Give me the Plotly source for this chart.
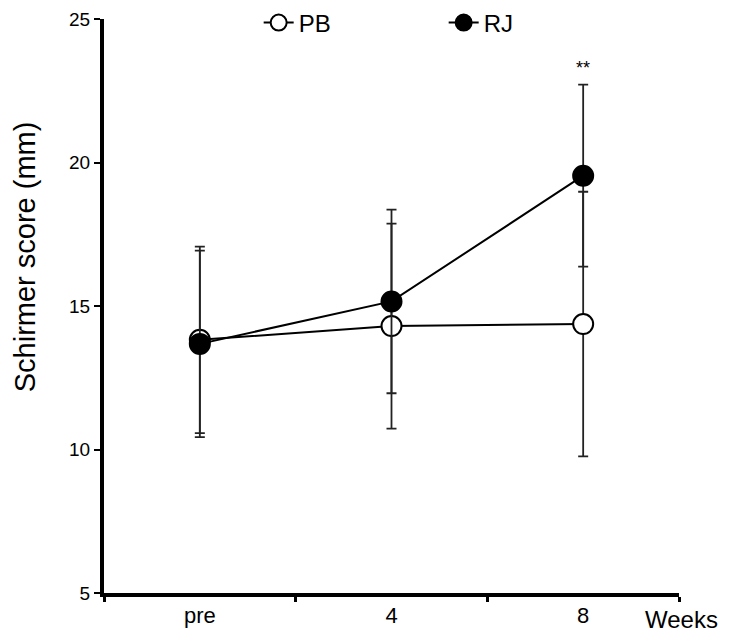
import plotly.graph_objects as go

weeks = ["pre", "4", "8"]
pb_mean = [13.82, 14.30, 14.37]
pb_err = [3.25, 3.57, 4.61]
rj_mean = [13.68, 15.16, 19.54]
rj_err = [3.25, 3.20, 3.17]
y_ticks = [5, 10, 15, 20, 25]

FONT = "Liberation Sans, Arial, sans-serif"

fig = go.Figure()
fig.add_trace(go.Scatter(
    x=weeks, y=pb_mean, name="PB", mode="lines+markers",
    line=dict(color="black", width=2),
    marker=dict(symbol="circle", size=20, color="white", line=dict(color="black", width=2)),
    error_y=dict(type="data", array=pb_err, visible=True, color="#222222", thickness=1.8, width=5),
))
fig.add_trace(go.Scatter(
    x=weeks, y=rj_mean, name="RJ", mode="lines+markers",
    line=dict(color="black", width=2),
    marker=dict(symbol="circle", size=20, color="black", line=dict(color="black", width=2)),
    error_y=dict(type="data", array=rj_err, visible=True, color="#222222", thickness=1.8, width=5),
))

fig.add_annotation(x=weeks.index("8"), y=23.3, text="**", showarrow=False,
                   xref="x", yref="y",
                   font=dict(family=FONT, size=18, color="black"))
fig.add_annotation(xref="paper", yref="paper", x=1.0035, y=-0.047, text="Weeks",
                   showarrow=False, xanchor="center", yanchor="middle",
                   font=dict(family=FONT, size=24, color="black"))
fig.add_annotation(xref="paper", yref="paper", x=-0.138, y=0.586,
                   text="Schirmer score (mm)", textangle=-90, showarrow=False,
                   xanchor="center", yanchor="middle",
                   font=dict(family=FONT, size=29, color="black"))

fig.update_layout(
    width=733, height=638,
    margin=dict(l=96, r=62, t=11, b=53, autoexpand=False),
    paper_bgcolor="white", plot_bgcolor="white",
    font=dict(family=FONT, color="black"),
    showlegend=True,
    legend=dict(orientation="h", x=0.269, xanchor="left", y=0.993, yanchor="middle",
                font=dict(family=FONT, size=24, color="black"),
                entrywidth=140, entrywidthmode="pixels",
                bgcolor="rgba(0,0,0,0)", borderwidth=0),
    xaxis=dict(type="category", categoryorder="array", categoryarray=weeks,
               range=[-0.5, 2.5], tickson="boundaries", ticks="outside", ticklen=5,
               tickwidth=3, tickcolor="black", showline=True, linecolor="black",
               linewidth=4, showgrid=False, zeroline=False,
               tickfont=dict(family=FONT, size=22, color="black")),
    yaxis=dict(range=[5, 25], tickvals=y_ticks, ticks="outside", ticklen=6,
               tickwidth=2, tickcolor="black", showline=True, linecolor="black",
               linewidth=4, showgrid=False, zeroline=False, ticklabeloverflow="allow",
               tickfont=dict(family=FONT, size=19, color="black")),
)

fig.write_html("out.html")
